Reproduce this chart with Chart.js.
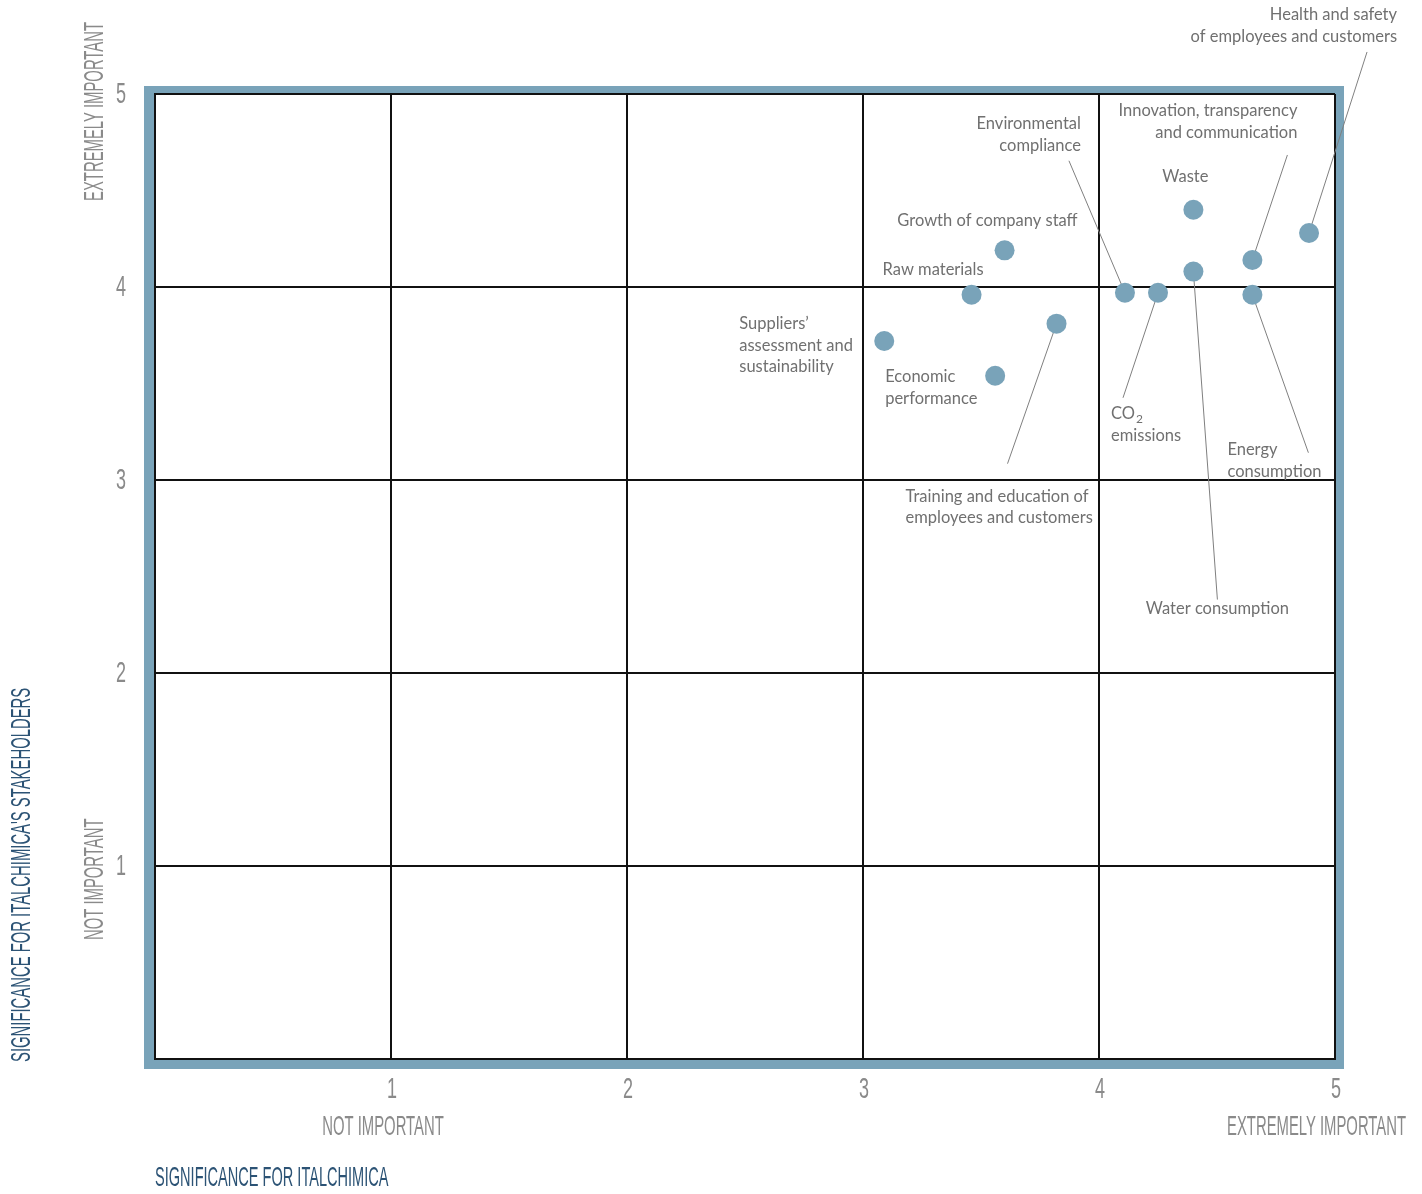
<!DOCTYPE html>
<html>
<head>
<meta charset="utf-8">
<script src="https://cdn.jsdelivr.net/npm/chart.js@4.4.1/dist/chart.umd.min.js"></script>
<style>
  body { margin: 0; background: #fff; }
  #wrap { width: 1422px; height: 1194px; position: relative; }
</style>
</head>
<body>
<div id="wrap"><canvas id="chart1"></canvas></div>
<script>
// Materiality matrix
const topics = [
    "Suppliers’\nassessment and\nsustainability",
    "Raw materials",
    "Growth of company staff",
    "Economic\nperformance",
    "Training and education of\nemployees and customers",
    "Environmental\ncompliance",
    "CO₂\nemissions",
    "Waste",
    "Water consumption",
    "Innovation, transparency\nand communication",
    "Energy\nconsumption",
    "Health and safety\nof employees and customers"
]
const italchimica  = [3.09, 3.46, 3.60, 3.56, 3.82, 4.11, 4.25, 4.40, 4.40, 4.65, 4.65, 4.89]
const stakeholders = [3.72, 3.96, 4.19, 3.54, 3.81, 3.97, 3.97, 4.40, 4.08, 4.14, 3.96, 4.28]
const tickLabels = ["", "1", "2", "3", "4", "5"]
const lowLabel = "NOT IMPORTANT"
const highLabel = "EXTREMELY IMPORTANT"
const xTitle = "SIGNIFICANCE FOR ITALCHIMICA"
const yTitle = "SIGNIFICANCE FOR ITALCHIMICA'S STAKEHOLDERS"

// where each label sits, in pixels from its point (same order as topics)
// lead = end of the leader line, also from the point
const callouts = [
    { dx: -145, dy: -17, align: "left" },
    { dx: 12, dy: -25, align: "right" },
    { dx: 73, dy: -30, align: "right" },
    { dx: -110, dy: 1, align: "left" },
    { dx: -151, dy: 173, align: "left", lead: [-49, 140] },
    { dx: -44, dy: -169, align: "right", lead: [-56, -132] },
    { dx: -47, dy: 121, align: "left", lead: [-35, 105] },
    { dx: -8, dy: -33, align: "center" },
    { dx: 24, dy: 337, align: "center", lead: [24, 328] },
    { dx: 45, dy: -149, align: "right", lead: [35, -105] },
    { dx: -25, dy: 155, align: "left", lead: [56, 158] },
    { dx: 88, dy: -218, align: "right", lead: [58, -181] }
]

const BLUE = "#79a3b9"
const NAVY = "#2c5375"
const GREY = "#8a8a8a"
const TEXT = "#707070"
const LABEL_FONT = "16.5px Lato, 'Noto Sans', sans-serif"

// condensed caps: Liberation Sans squeezed sideways
function caption(ctx, text, x, y, align, rotate, color, size = 28, squeeze = 0.53) {
    ctx.save()
    ctx.translate(x, y)
    if (rotate) ctx.rotate(-Math.PI / 2)
    ctx.scale(squeeze, 1)
    ctx.font = size + "px 'Liberation Sans', sans-serif"
    ctx.fillStyle = color
    ctx.textAlign = align
    ctx.textBaseline = "middle"
    ctx.fillText(text, 0, 0)
    ctx.restore()
}

// one line of a callout, with a real subscript for the "2" of CO2
function labelLine(ctx, line, x, y) {
    if (!line.includes("₂")) {
        ctx.fillText(line, x, y)
        return
    }
    const parts = line.split("₂")
    ctx.fillText(parts[0], x, y)
    const w = ctx.measureText(parts[0]).width
    ctx.save()
    ctx.font = "12px Lato, 'Noto Sans', sans-serif"
    ctx.textAlign = "left"
    ctx.fillText("2", x + w + 1, y + 5)
    ctx.restore()
}

const matrixPlugin = {
    id: "matrix",
    beforeDraw(chart) {
        const { ctx, chartArea: a } = chart
        ctx.save()
        ctx.fillStyle = BLUE
        ctx.fillRect(a.left - 11, a.top - 8, a.width + 20, a.height + 18)
        ctx.fillStyle = "#fff"
        ctx.fillRect(a.left, a.top, a.width, a.height)
        ctx.restore()
    },
    beforeDatasetsDraw(chart) {
        // leader lines go under the dots
        const ctx = chart.ctx
        const pts = chart.getDatasetMeta(0).data
        ctx.save()
        ctx.strokeStyle = "#808080"
        ctx.lineWidth = 1
        callouts.forEach((c, i) => {
            if (!c.lead) return
            ctx.beginPath()
            ctx.moveTo(pts[i].x, pts[i].y)
            ctx.lineTo(pts[i].x + c.lead[0], pts[i].y + c.lead[1])
            ctx.stroke()
        })
        ctx.restore()
    },
    afterDatasetsDraw(chart) {
        const ctx = chart.ctx
        const pts = chart.getDatasetMeta(0).data
        ctx.save()
        ctx.font = LABEL_FONT
        ctx.fillStyle = TEXT
        ctx.textBaseline = "middle"
        callouts.forEach((c, i) => {
            ctx.textAlign = c.align
            topics[i].split("\n").forEach((line, j) => {
                labelLine(ctx, line, pts[i].x + c.dx, pts[i].y + c.dy + j * 21.5)
            })
        })
        ctx.restore()
    },
    afterDraw(chart) {
        const { ctx, chartArea: a } = chart
        const x = chart.scales.x
        const y = chart.scales.y
        // tick numbers, placed from the scales' own ticks
        x.ticks.forEach((t, i) => {
            caption(ctx, tickLabels[t.value], x.getPixelForTick(i) + 1, a.bottom + 31, "center", false, GREY, 30, 0.6)
        })
        y.ticks.forEach((t, i) => {
            caption(ctx, tickLabels[t.value], a.left - 34, y.getPixelForTick(i) + 1, "center", false, GREY, 30, 0.6)
        })
        // y side
        caption(ctx, highLabel, 95, a.top - 72, "right", true, GREY)
        caption(ctx, lowLabel, 95, a.bottom - 119, "left", true, GREY)
        caption(ctx, yTitle, 22, a.bottom + 3, "left", true, NAVY)
        // x side
        caption(ctx, lowLabel, x.getPixelForValue(1) - 8, a.bottom + 68, "center", false, GREY)
        caption(ctx, highLabel, a.right + 71, a.bottom + 68, "right", false, GREY)
        caption(ctx, xTitle, a.left, a.bottom + 119, "left", false, NAVY, 28, 0.52)
    }
}

const gridOpts = { color: "#111", lineWidth: 2, drawTicks: false }

const chart1 = new Chart(document.getElementById("chart1"), {
    type: "scatter",
    data: {
        datasets: [{
            data: italchimica.map((v, i) => ({ x: v, y: stakeholders[i] })),
            backgroundColor: BLUE,
            borderWidth: 0,
            pointRadius: 10,
            pointHoverRadius: 10
        }]
    },
    options: {
        responsive: true,
        maintainAspectRatio: false,
        animation: false,
        layout: { padding: { left: 0, top: 94, right: 87, bottom: 0 } },
        plugins: { legend: { display: false }, tooltip: { enabled: false } },
        scales: {
            x: {
                min: 0, max: 5,
                grid: gridOpts,
                border: { color: "#111", width: 2 },
                ticks: { stepSize: 1, display: false },
                afterFit: (s) => { s.height = 135 }
            },
            y: {
                min: 0, max: 5,
                grid: gridOpts,
                border: { color: "#111", width: 2 },
                ticks: { stepSize: 1, display: false },
                afterFit: (s) => { s.width = 155 }
            }
        }
    },
    plugins: [matrixPlugin]
})
</script>
</body>
</html>
